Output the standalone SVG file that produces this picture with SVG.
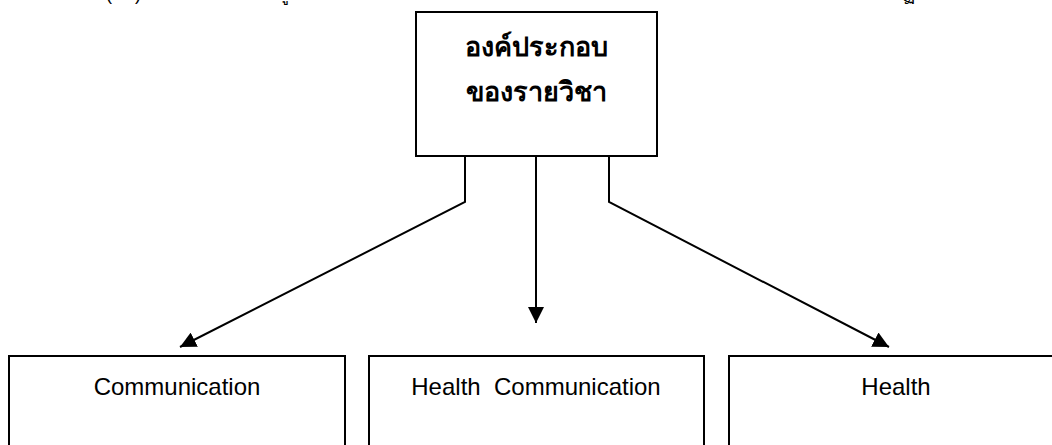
<svg xmlns="http://www.w3.org/2000/svg" width="1052" height="445" viewBox="0 0 1052 445">
  <style>
    .box { fill: #ffffff; stroke: #000000; stroke-width: 2; }
    .wire { fill: none; stroke: #000000; stroke-width: 2; stroke-linejoin: miter; }
    .title { font-family: "Liberation Sans", "Noto Sans", "DejaVu Sans", sans-serif; font-size: 27px; font-weight: bold; fill: #000000; text-anchor: middle; }
    .label { font-family: "Liberation Sans", Arial, sans-serif; font-size: 24px; fill: #000000; text-anchor: middle; }
    .frag { font-family: "Liberation Sans", "DejaVu Sans", sans-serif; font-size: 18px; fill: #000000; }
  </style>
  <defs>
    <marker id="arrow" viewBox="0 0 16 16" refX="16" refY="8" markerWidth="16" markerHeight="16" markerUnits="userSpaceOnUse" orient="auto">
      <path d="M0,0 L16,8 L0,16 Z" fill="#000000"/>
    </marker>
  </defs>

  <rect width="1052" height="445" fill="#ffffff"/>

  <!-- lower edge of the preceding text line, cut by the top border -->
  <g id="line-above">
    <text class="frag" x="106" y="0">(</text>
    <text class="frag" x="135" y="0">)</text>
    <text class="frag" x="278" y="0">ปู</text>
    <text class="frag" x="903" y="1">ฏ</text>
  </g>

  <!-- connectors -->
  <g id="connectors">
    <polyline class="wire" points="465,156 465,202 180,347" marker-end="url(#arrow)"/>
    <line class="wire" x1="536" y1="156" x2="536" y2="323" marker-end="url(#arrow)"/>
    <polyline class="wire" points="609,156 609,202 889,347" marker-end="url(#arrow)"/>
  </g>

  <g id="node-course">
    <rect class="box" x="416" y="12" width="241" height="144"/>
    <text class="title" x="536" y="56">องค์ประกอบ</text>
    <text class="title" x="536" y="101">ของรายวิชา</text>
  </g>

  <g id="node-communication">
    <rect class="box" x="9" y="356" width="336" height="100"/>
    <text class="label" x="177" y="395">Communication</text>
  </g>

  <g id="node-health-communication">
    <rect class="box" x="369" y="356" width="335" height="100"/>
    <text class="label" x="536" y="395" xml:space="preserve">Health  Communication</text>
  </g>

  <g id="node-health">
    <rect class="box" x="729" y="356" width="340" height="100"/>
    <text class="label" x="896" y="395">Health</text>
  </g>
</svg>
